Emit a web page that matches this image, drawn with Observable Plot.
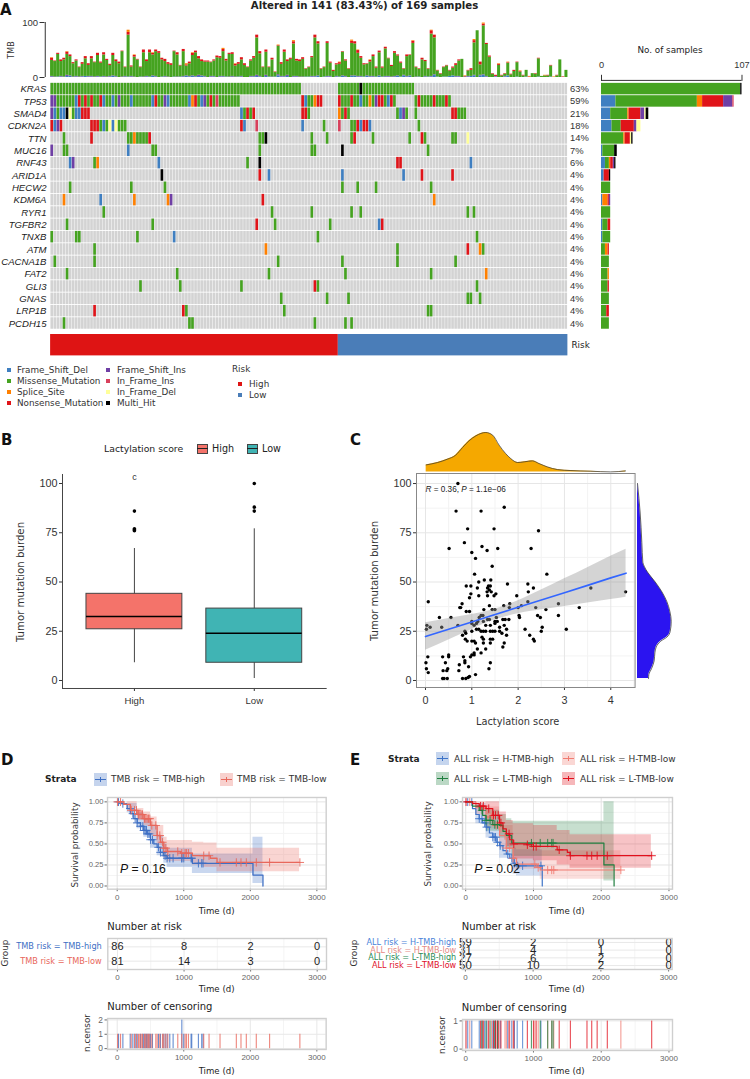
<!doctype html>
<html><head><meta charset="utf-8">
<script src="https://cdn.jsdelivr.net/npm/d3@7"></script>
<script src="https://cdn.jsdelivr.net/npm/@observablehq/plot@0.6"></script>
<style>
html,body{margin:0;background:#fff}
#page{position:relative;width:750px;height:1079px;overflow:hidden;font-family:"DejaVu Sans",sans-serif;color:#222}
.l{position:absolute;white-space:nowrap;line-height:1}
.b{position:absolute;box-sizing:border-box}
</style></head><body><div id="page"></div>
<script>
// ---------- Panel A data ----------
const genes=["KRAS","TP53","SMAD4","CDKN2A","TTN","MUC16","RNF43","ARID1A","HECW2","KDM6A","RYR1","TGFBR2","TNXB","ATM","CACNA1B","FAT2","GLI3","GNAS","LRP1B","PCDH15"];
const genePct=["63%","59%","21%","18%","14%","7%","6%","4%","4%","4%","4%","4%","4%","4%","4%","4%","4%","4%","4%","4%"];
const mutTypes=["Frame_Shift_Del","Missense_Mutation","Splice_Site","Nonsense_Mutation","Frame_Shift_Ins","In_Frame_Ins","In_Frame_Del","Multi_Hit"];
const mutColors=["#3F7FC1","#45A320","#FF8000","#E01419","#6F3FA5","#D8405C","#FFFF99","#000000"];
const [FD,MI,SP,NO,FI,II,ID,MH]=mutTypes;
// sample index lists per gene, by variant
const rows={
KRAS:{[MI]:[0,1,2,3,4,5,6,7,8,9,10,11,12,13,14,15,16,17,18,19,20,21,22,23,24,25,26,27,28,29,30,31,32,33,34,35,36,37,38,39,40,41,42,43,44,45,46,47,48,49,50,51,52,53,54,55,56,57,58,59,60,61,62,63,64,65,66,67,68,69,70,71,72,73,74,75,76,77,78,79,80,81,94,95,96,97,98,99,100,102,103,104,105,106,107,108,109,110,111,112,113,114,115,116,117,118],[MH]:[101]},
TP53:{[FI]:[0,1,22,37,50,106],[MI]:[2,3,4,5,6,7,10,12,14,15,18,19,21,23,24,25,27,28,29,30,31,32,35,36,39,40,41,42,43,44,48,51,53,55,56,57,58,59,60,61,84,85,95,96,97,99,100,102,103,105,109,112,119,121,122,123,124,126,127,128,130],[FD]:[8,17,20,26,33,38,45,49,83,101,110],[NO]:[9,11,13,16,34,47,52,82,87,88,94,98,107,108,111,120,125,129],[SP]:[46,86,104],[II]:[54]},
SMAD4:{[FI]:[0,115],[FD]:[1,3,4,8,9,62,114],[MI]:[2,7,63,65,84,95,97,113,116,119,133,134,135],[MH]:[5],[ID]:[6],[NO]:[10,11,12,64,66,82,83,96,131,132],[SP]:[94]},
CDKN2A:{[NO]:[0,3,13,14,15,62,100,102,103],[FD]:[1,17,20,63,82,101,104],[FI]:[2],[MI]:[16,18,22,23,24,89,98,99,120],[ID]:[19,21],[II]:[67,94]},
TTN:{[MI]:[4,25,26,28,29,30,31,68,69,85,90,98,105,117,122,131,132],[NO]:[13,32,99,121],[SP]:[27],[MH]:[70],[ID]:[136]},
MUC16:{[FI]:[0],[MI]:[4,5,33,34,68,85,86,123],[FD]:[25],[MH]:[95]},
RNF43:{[FD]:[6,35,137],[FI]:[7],[MI]:[14,64],[SP]:[15],[MH]:[68],[NO]:[113,114]},
ARID1A:{[MH]:[36],[NO]:[68,121,131],[FD]:[71,95,115]},
HECW2:{[MI]:[6,26,37,95,100,106,124]},
KDM6A:{[SP]:[4,27,38,125],[FD]:[16],[FI]:[39],[NO]:[69]},
RYR1:{[MI]:[17,72,85,98,101,136,138]},
TGFBR2:{[MI]:[5,33,73,91],[NO]:[67,108],[FD]:[107]},
TNXB:{[MI]:[0,8,9,28,87,139],[FD]:[40]},
ATM:{[MI]:[14,113,141],[SP]:[70,140],[NO]:[136]},
CACNA1B:{[MI]:[1,14,74,95,113,132]},
FAT2:{[MI]:[5,41,71,96,124],[SP]:[142]},
GLI3:{[MI]:[29,42,62,87,139],[NO]:[86]},
GNAS:{[MI]:[75,90,97,136,137,140]},
LRP1B:{[NO]:[14,43],[MI]:[44,76,123,124]},
PCDH15:{[MI]:[4,45,46,86,96,98]}
};
// TMB per sample (total, then the layers)
const tmbTotal=[36,30,44,32,35,47,41,27,32,19,27,38,25,38,28,44,28,45,33,24,44,32,28,48,19,86,21,41,33,19,50,32,50,45,50,47,35,33,27,25,48,45,22,51,25,28,45,48,38,32,30,30,28,32,39,38,53,33,44,45,25,27,36,25,19,32,38,77,47,19,50,19,35,10,59,27,50,32,35,67,33,32,
36,16,19,38,77,65,16,19,65,28,13,25,28,47,32,16,68,65,50,38,25,25,32,41,19,48,19,55,35,22,47,41,28,16,41,41,67,19,16,35,31,16,86,77,13,7,19,22,13,19,25,32,33,1,13,16,69,85,28,99,62,39,7,4,25,4,7,28,6,13,28,12,4,13,1,7,7,35,2,4,4,22,1,4,32,1,13];
const tmbNonsense=[4,1,2,3,3,4,3,2,2,1,3,4,3,4,1,4,2,4,2,2,4,3,3,1,1,5,2,3,1,1,5,3,5,3,3,3,3,4,3,3,1,4,1,4,2,3,4,3,4,3,2,2,1,2,3,3,4,3,2,3,3,3,4,3,1,2,3,5,4,1,4,1,3,1,1,3,4,3,2,4,3,3,
3,1,1,2,5,4,1,1,3,2,2,2,3,1,2,1,4,4,5,3,2,1,3,3,2,3,2,3,1,2,3,2,2,1,3,1,4,1,1,3,2,1,6,5,1,1,1,1,1,2,3,2,0,1,1,3,4,0,5,3,2,2,1,2,2,1,1,1,1,2,1,1,1,0,1,0,1,1,0,0,1,1,0,1,0,1,0];
const tmbFrameDel=[1,0,1,1,0,2,2,0,1,0,1,2,1,1,0,1,1,1,0,1,2,1,0,0,1,1,1,0,0,1,0,1,1,2,1,0,1,1,0,0,1,0,1,1,2,1,2,1,2,2,1,0,1,1,0,1,1,1,0,1,0,1,1,0,0,1,1,2,1,0,2,1,0,1,3,1,1,2,0,1,1,0,
0,1,1,1,1,2,0,1,1,1,0,1,1,2,1,0,2,2,1,1,1,2,1,1,1,2,1,1,1,0,1,2,1,3,1,2,0,0,1,0,1,1,1,4,1,0,1,1,2,3,1,1,0,1,1,2,3,0,3,4,1,0,0,1,0,0,1,3,0,0,1,0,0,1,0,0,0,1,0,0,0,1,0,0,0,0,0];
const tmbFrameIns=[1,1,0,1,1,2,1,1,1,1,1,0,1,1,1,1,0,1,1,1,1,1,0,1,1,0,1,1,0,0,1,1,0,1,1,0,0,1,1,0,0,1,0,1,1,1,1,1,2,1,1,0,1,1,0,1,1,0,1,1,1,0,1,0,0,1,1,2,1,0,2,0,1,0,2,1,1,2,0,1,1,1,
1,0,0,1,1,1,0,0,1,1,0,1,0,1,1,0,1,1,1,1,0,1,1,1,0,1,0,1,1,1,1,1,0,1,1,1,0,1,0,0,1,0,1,1,0,0,0,0,0,0,1,1,0,0,1,0,1,0,1,1,1,0,0,1,0,0,1,0,0,0,0,0,0,0,0,0,0,0,0,0,0,0,0,0,0,0,0];
const spliceSamples=[0,5,25,27,33,44,46,56,60,74,79,94,98,100,104,118,124,135,138,141,146,149,153,156,161,164];
const spliceValues=[1,1,4,1,1,2,1,2,1,1,2,1,2,1,1,1,1,1,2,2,1,1,1,1,1,1];
// bar totals on the right, per gene per variant
const sideCounts={
KRAS:[0,106,0,0,0,0,0,1],TP53:[11,62,4,16,7,1,0,0],SMAD4:[7,13,1,9,3,0,1,2],CDKN2A:[8,7,0,10,2,0,3,0],TTN:[0,17,1,4,0,0,1,1],
MUC16:[1,9,0,0,0,0,0,2],RNF43:[3,3,1,2,1,0,0,1],ARID1A:[2,0,0,4,0,0,0,1],HECW2:[0,7,0,0,0,0,0,0],KDM6A:[1,0,4,1,1,0,0,0],
RYR1:[0,7,0,0,0,0,0,0],TGFBR2:[1,4,0,2,0,0,0,0],TNXB:[1,6,0,0,0,0,0,0],ATM:[0,3,2,1,0,0,0,0],CACNA1B:[0,6,0,0,0,0,0,0],
FAT2:[0,5,1,0,0,0,0,0],GLI3:[0,5,0,1,0,0,0,0],GNAS:[0,6,0,0,0,0,0,0],LRP1B:[0,4,0,2,0,0,0,0],PCDH15:[0,6,0,0,0,0,0,0]};
const riskGroups=["High","Low"], riskCounts=[94,75], riskColors=["#DE1414","#4A7DB8"];
const nSamples=169;
// ---------- Panel B data ----------
const boxStats=[{g:"High",lo:9,q1:26,med:32.5,q3:44,hi:67},{g:"Low",lo:1,q1:9,med:24,q3:36.5,hi:77}];
const boxOutG=["High","High","High","High","Low","Low","Low"], boxOutV=[76,76.5,77,86,86,88,100];
const boxColors=["#F4736A","#40B4B4"];
// ---------- Panel C data ----------
const scatter=[[0.70,100],[0.66,86],[1.20,86],[1.70,88],[0.91,77],[1.48,77],[2.44,76],[0.84,70],[1.22,68],[0.51,67],[1.56,67],[2.28,67],[1.33,66],[1.0,65],[1.08,62],[1.44,58],[2.62,54],[1.06,54],[1.15,50],[1.27,51],[1.41,51],[1.77,49],[2.21,49],[0.88,48],[0.98,48],[1.36,48],[1.40,48],[1.34,47],[1.38,46],[1.12,47],[3.57,47],[2.22,45],[2.33,47],[4.32,45],[0.98,44],[1.33,45],[1.42,45],[1.52,44],[1.48,43],[0.95,42],[1.15,43],[1.34,43],[1.97,43],[0.06,40],[0.79,39],[0.76,37],[0.74,37],[2.21,40],[1.82,39],[2.87,39],[1.69,38],[1.38,38],[2.07,38],[1.44,36],[1.26,36],[1.5,36],[1.81,37],[2.38,37],[3.32,37],[2.0,37],[0.88,35],[0.95,35],[1.2,33],[1.16,32],[1.24,33],[2.42,33],[2.87,33],[0.3,32],[0.55,32],[2.02,33],[2.03,32],[2.48,32],[1.34,31],[1.38,31],[1.53,32],[1.67,31],[1.72,31],[1.8,31],[2.6,36],[1.0,30],[1.13,30],[1.25,30],[1.5,30],[1.55,30],[0.02,26],[0.03,28],[0.1,27],[0.35,27],[0.7,28],[1.0,29],[1.05,28],[1.1,29],[1.3,28],[1.4,28],[1.5,29],[1.6,27],[1.7,28],[1.75,26],[2.15,26],[2.5,25],[2.52,27],[3.04,26],[0.87,24],[0.85,25],[0.8,23],[1.0,25],[1.1,26],[1.15,26],[1.2,25],[1.25,25],[1.3,25],[1.4,25],[1.45,25],[1.5,25],[1.6,25],[1.65,24],[1.75,23],[2.25,23],[2.33,21],[2.35,20],[0.86,21],[0.9,20],[1.0,20],[1.05,20],[1.08,19],[1.22,22],[1.25,21],[1.4,21],[1.45,21],[1.4,19],[1.7,19],[1.67,17],[1.25,19],[1.12,16],[1.3,16],[1.2,14],[1.05,14],[1.0,13],[0.97,12],[1.05,13],[0.5,12],[0.5,13],[0.05,12],[0.37,12],[0.82,12],[0.85,10],[0.85,9],[0.43,9],[0.01,9],[1.4,9],[0.73,8],[0.93,7],[0.02,6],[0.48,6],[0.46,5],[0.38,5],[0.72,5],[1.37,6],[0.06,4],[1.08,3],[0.37,1],[0.4,1],[0.47,1],[0.8,1],[0.87,1],[0.92,1.5],[0.95,2]];
const fitX=[0,0.5,1,1.4,2,2.5,3,3.5,4,4.33];
const fitY=[22.3,26,29.7,32.7,37.2,40.9,44.6,48.3,52.1,54.5];
const fitHi=[29.3,31.5,33.5,35.5,40.5,45.9,51.6,57.3,63.1,66.7];
const fitLo=[15.3,20.5,25.9,29.9,33.9,35.9,37.6,39.3,41.1,42.3];
const topDensX=[0.014,0.26,0.47,0.65,0.80,0.94,1.09,1.30,1.45,1.59,1.73,1.84,1.99,2.13,2.31,2.45,2.63,2.85,3.14,3.57,4.0,4.32];
const topDensY=[.127,.17,.23,.303,.442,.564,.655,.715,.667,.485,.333,.242,.17,.182,.2,.152,.091,.042,.024,.012,0,.018];
const sideDensT=[100,85,70,60,58,55,50,45,40,35,30,25,22,20,17,14,10,6,3,1];
const sideDensD=[0,8,13,16,20,30,53,73,88,97,101,98,88,70,56,52,50,42,34,33];
// ---------- Panel D data ----------
const dHighT=[0,60,100,150,200,250,300,350,400,450,500,550,600,650,700,750,1130,2040,2190];
const dHighS=[1,.98,.97,.92,.86,.80,.75,.71,.66,.62,.55,.50,.46,.40,.36,.33,.27,.13,0];
const dHighBT=[0,150,300,400,500,600,700,750,1130,2040,2190];
const dHighHi=[1,.98,.87,.79,.71,.60,.50,.45,.38,.58,.58];
const dHighLo=[1,.87,.68,.58,.45,.36,.27,.22,.15,.03,.03];
const dHighCens=[20,85,195,235,270,300,350,385,400,420,440,460,480,500,530,620,650,690,720,750,790,840,971,971,1000,1110,1120,1220,1270,1290];
const dLowT=[0,100,200,300,400,500,600,650,700,750,950,1130,1400,1500,2740];
const dLowS=[1,.97,.90,.85,.80,.72,.60,.52,.45,.41,.39,.36,.33,.28,.28];
const dLowBT=[0,150,300,400,500,600,700,750,1130,1300,1500,2740];
const dLowHi=[1,1,.92,.88,.82,.72,.58,.54,.52,.51,.45,.45];
const dLowLo=[1,.92,.78,.72,.60,.48,.33,.29,.25,.22,.17,.17];
const dLowCens=[5,50,210,260,290,320,340,360,380,410,430,450,470,490,520,580,600,640,680,700,730,760,910,970,1020,1040,1070,1300,1380,1545,1790,1860,1940,2090,2290,2745];
const dGroups=["TMB risk = TMB-high","TMB risk = TMB-low"];
const dColors=["#3E6FC4","#E8685C"];
const dAtRisk=[[86,8,2,0],[81,14,3,0]];
const riskTimes=[0,1000,2000,3000];
// ---------- Panel E data ----------
const eGroups=["ALL risk = H-TMB-high","ALL risk = H-TMB-low","ALL risk = L-TMB-high","ALL risk = L-TMB-low"];
const eColors=["#3E74C8","#F07C72","#1F7F3F","#E0101C"];
const eLabelColors=["#4A82D8","#E58A85","#2E8B57","#E0102A"];
const eAtRisk=[[59,2,0,0],[31,4,1,0],[27,6,2,0],[50,10,2,0]];
const eCurves=[
{t:[0,100,150,200,250,300,350,400,450,500,550,600,650,700,750,1130],s:[1,.92,.85,.80,.75,.70,.63,.58,.52,.48,.42,.38,.33,.27,.24,0],
 bt:[0,150,300,500,700,750,1130],hi:[1,.98,.83,.63,.45,.43,.43],lo:[1,.74,.57,.33,.14,.12,.12],c:[30,90,200,240,280,310,400,420,440,470,510,620,680,720,760,840,1110]},
{t:[0,150,300,400,500,600,700,750,1050,1100,2280],s:[1,.93,.82,.72,.60,.45,.33,.26,.22,.19,.19],
 bt:[0,150,300,500,700,1100,2290],hi:[1,1,.94,.72,.48,.42,.42],lo:[1,.84,.68,.45,.20,.08,.08],c:[60,250,330,380,450,490,580,600,650,700,1020,1070,1210,1270,1300,2290]},
{t:[0,100,200,250,300,400,500,550,600,680,2040,2190],s:[1,.95,.90,.84,.78,.73,.72,.65,.60,.51,.25,0],
 bt:[0,300,500,600,680,2040,2190],hi:[1,.90,.85,.80,.77,1,1],lo:[1,.65,.57,.45,.35,.06,.06],c:[240,300,360,430,470,970,1100,1210,1270,1290]},
{t:[0,100,200,300,400,500,550,600,650,700,900,1000,1350,1500,1540,2740],s:[1,.98,.95,.92,.84,.75,.68,.62,.55,.50,.49,.47,.43,.40,.36,.36],
 bt:[0,300,500,600,700,1000,1350,1540,2740],hi:[1,1,.88,.78,.74,.72,.66,.61,.61],lo:[1,.85,.63,.47,.32,.30,.25,.21,.21],c:[5,220,260,340,410,440,480,520,640,710,910,1000,1040,1380,1545,1790,1860,1940,2090,2745]}
];

// ---------- helpers ----------
const page=document.getElementById("page");
const NUM='"Liberation Sans",sans-serif', WORD='"DejaVu Sans",sans-serif';
function lab(html,x,y,o={}){
  const e=document.createElement("div");e.className="l";e.innerHTML=html;
  const tx=o.a==="r"?"-100%":o.a==="c"?"-50%":"0";
  e.style.cssText+=`left:${x}px;top:${y}px;font-size:${o.s||9}px;color:${o.c||"#222"};font-family:${o.f||WORD};font-weight:${o.b?700:400};transform:translate(${tx},-50%)${o.r?` rotate(${o.r}deg)`:""};`;
  page.append(e);return e;
}
function box(x,y,w,h,bg,extra=""){
  const e=document.createElement("div");e.className="b";e.style.cssText+=`left:${x}px;top:${y}px;width:${w}px;height:${h}px;background:${bg};${extra}`;page.append(e);return e;
}
function panel(x0,x1,y0,y1,[t,r,b,l],opts){
  const svg=Plot.plot({width:x1-x0+l+r,height:y1-y0+t+b,marginTop:t,marginRight:r,marginBottom:b,marginLeft:l,
    style:{position:"absolute",left:(x0-l)+"px",top:(y0-t)+"px",background:"none",overflow:"visible",fontFamily:NUM,fontSize:"9px"},...opts});
  page.append(svg);return svg;
}
const stepAt=(T,S,t)=>S[Math.max(0,d3.bisectRight(T,t)-1)];

// ---------- Panel A ----------
const sampleDomain=d3.range(nSamples);
const bgCells=genes.flatMap(g=>sampleDomain.map(s=>({g,s})));
const mutCells=genes.flatMap(g=>Object.entries(rows[g]).flatMap(([type,list])=>list.map(s=>({g,s,type}))));
panel(50,567.5,82,329.6,[0,30,0,50],{
  x:{type:"band",domain:sampleDomain,padding:.14,round:false,axis:null},
  y:{type:"band",domain:genes,padding:.07,round:false,axis:null},
  color:{domain:mutTypes,range:mutColors},
  marks:[
    Plot.cell(bgCells,{x:"s",y:"g",fill:"#D3D3D3"}),
    Plot.cell(mutCells,{x:"s",y:"g",fill:"type"}),
    Plot.text(genes,{y:d=>d,text:d=>d,frameAnchor:"left",dx:-4,textAnchor:"end",fontStyle:"italic",fontSize:9.6,fill:"#222"}),
    Plot.text(genes,{y:d=>d,text:(d,i)=>genePct[i],frameAnchor:"right",dx:2,textAnchor:"start",fontSize:9.4,fill:"#333"})
  ]});
const spliceBy=new Map(spliceSamples.map((s,i)=>[s,spliceValues[i]]));
const tmbLong=sampleDomain.flatMap(i=>{
  const sp=spliceBy.get(i)||0, tot=tmbTotal[i];
  return [
    {i,type:FD,v:tmbFrameDel[i]},{i,type:FI,v:tmbFrameIns[i]},
    {i,type:MI,v:Math.max(0,tot-tmbFrameDel[i]-tmbFrameIns[i]-tmbNonsense[i]-sp)},
    {i,type:NO,v:tmbNonsense[i]},{i,type:SP,v:sp}];
});
panel(50,567.5,22,77,[3,2,2,30],{
  x:{type:"band",domain:sampleDomain,padding:.02,round:false,axis:null},
  y:{domain:[0,100],axis:null},
  color:{domain:mutTypes,range:mutColors},
  marks:[
    Plot.barY(tmbLong,{x:"i",y:"v",fill:"type"}),
    Plot.axisY({ticks:[0,100],tickSize:5,tickPadding:2,dx:-5.5,fontSize:9.5,color:"#333",label:null}),
    Plot.ruleX([0],{x:0,y1:0,y2:100,dx:-6.8,stroke:"#333"})
  ]});
const sideLong=genes.flatMap(g=>mutTypes.map((type,k)=>({g,type,v:sideCounts[g][k]})));
panel(600.5,741,82,329.6,[24,6,2,6],{
  x:{domain:[0,107],axis:null},
  y:{type:"band",domain:genes,padding:.07,round:false,axis:null},
  color:{domain:mutTypes,range:mutColors},
  marks:[
    Plot.barX(sideLong,{y:"g",x:"v",fill:"type"}),
    Plot.axisX({anchor:"top",ticks:[0,107],tickSize:6,tickPadding:6,dy:-2.2,fontSize:9.2,color:"#333",label:null}),
    Plot.ruleY([genes[0]],{y:d=>d,x1:0,x2:107,dy:-8.7,stroke:"#333"})
  ]});
panel(50,567.5,334.3,355.7,[0,0,0,0],{
  x:{domain:[0,nSamples],axis:null},
  color:{domain:riskGroups,range:riskColors},
  marks:[Plot.barX(riskGroups,{x:(d,i)=>riskCounts[i],fill:d=>d})]});

lab("A",0,10,{s:15,b:1,c:"#111",f:WORD});
lab("Altered in 141 (83.43%) of 169 samples",364.5,5.5,{s:10.2,b:1,a:"c",c:"#222"});
lab("TMB",12,50,{s:8,a:"c",r:-90,c:"#333"});
lab("No. of samples",670,50,{s:8.8,a:"c"});
lab("Risk",571.5,345,{s:8.8});
[[FD,FI],[MI,II],[SP,ID],[NO,MH]].forEach(([a,b],i)=>{
  const y=370+i*11.1;
  box(7,y-2,4,4,mutColors[mutTypes.indexOf(a)]);lab(a,17,y,{s:8.8,c:"#333"});
  box(106,y-2,4,4,mutColors[mutTypes.indexOf(b)]);lab(b,117,y,{s:8.8,c:"#333"});
});
lab("Risk",232,369,{s:8.8,c:"#333"});
box(238,381.7,4,4,riskColors[0]);lab("High",249,383.7,{s:8.8,c:"#333"});
box(238,392.8,4,4,riskColors[1]);lab("Low",249,394.8,{s:8.8,c:"#333"});

// ---------- Panel B ----------
const boxOut=boxOutG.map((g,i)=>({g,v:boxOutV[i]}));
panel(62,325.7,474.3,688.3,[2,3,22,30],{
  x:{type:"band",domain:riskGroups,padding:.2,round:false,axis:null},
  y:{domain:[-4.06,104.57],axis:null},
  color:{domain:riskGroups,range:boxColors},
  marks:[
    Plot.ruleX(boxStats,{x:"g",y1:"lo",y2:"hi",stroke:"#444",strokeWidth:1}),
    Plot.barY(boxStats,{x:"g",y1:"q1",y2:"q3",fill:"g",stroke:"#444",strokeWidth:1}),
    Plot.tickY(boxStats,{x:"g",y:"med",stroke:"#000",strokeWidth:1.6}),
    Plot.dot(boxOut,{x:"g",y:"v",r:1.8,fill:"#000"}),
    Plot.text(["c"],{x:()=>"High",y:()=>103,text:d=>d,dy:0,fontSize:9,fill:"#333"}),
    Plot.axisY({ticks:[0,25,50,75,100],tickSize:3,tickPadding:2,fontSize:10.8,color:"#333",label:null}),
    Plot.axisX({ticks:riskGroups,tickSize:3,tickPadding:6,fontSize:9.6,color:"#333",label:null}),
    Plot.frame({anchor:"left",stroke:"#444"}),Plot.frame({anchor:"bottom",stroke:"#444"})
  ]});
lab("B",1,440,{s:15,b:1,c:"#111"});
lab("Lactylation score",104,449,{s:9.3});
box(197,444,11,9.5,boxColors[0],"border:1px solid #444");box(197,448.3,11,1,"#222");
lab("High",212,449,{s:9.6});
box(247,444,11,9.5,boxColors[1],"border:1px solid #444");box(247,448.3,11,1,"#222");
lab("Low",262,449,{s:9.6});
lab("Tumor mutation burden",21,581.7,{s:10.2,a:"c",r:-90,c:"#333"});

// ---------- Panel C ----------
const cX=[-0.194,4.525];
panel(415.7,634.3,473.3,687.3,[2,2,22,30],{
  x:{domain:cX,axis:null},y:{domain:[-3.55,105.1],axis:null},
  marks:[
    Plot.gridX({ticks:[0.5,1.5,2.5,3.5,4.5],stroke:"#F3F3F3",strokeOpacity:1}),
    Plot.gridY({ticks:[12.5,37.5,62.5,87.5],stroke:"#F3F3F3",strokeOpacity:1}),
    Plot.gridX({ticks:[0,1,2,3,4],stroke:"#E6E6E6",strokeOpacity:1}),
    Plot.gridY({ticks:[0,25,50,75,100],stroke:"#E6E6E6",strokeOpacity:1}),
    Plot.dot(scatter,{x:d=>d[0],y:d=>d[1],r:1.7,fill:"#000"}),
    Plot.areaY(fitX,{x:d=>d,y1:(d,i)=>fitLo[i],y2:(d,i)=>fitHi[i],fill:"#999",fillOpacity:.42,curve:"monotone-x"}),
    Plot.lineY(fitX,{x:d=>d,y:(d,i)=>fitY[i],stroke:"#3366FF",strokeWidth:1.6}),
    Plot.axisX({ticks:[0,1,2,3,4],tickFormat:"d",tickSize:3,tickPadding:6,fontSize:10.8,color:"#333",label:null}),
    Plot.axisY({ticks:[0,25,50,75,100],tickSize:3,tickPadding:2,fontSize:10.8,color:"#333",label:null}),
    Plot.frame({stroke:"#888",strokeWidth:1})
  ]});
panel(415.7,634.3,432.3,471.7,[2,0,0,0],{
  x:{domain:cX,axis:null},y:{domain:[0,.715],axis:null},
  marks:[
    Plot.areaY(topDensX,{x:d=>d,y:(d,i)=>topDensY[i],fill:"#F5A800",curve:"monotone-x"}),
    Plot.lineY(topDensX,{x:d=>d,y:(d,i)=>topDensY[i],stroke:"#333",strokeWidth:.7,curve:"monotone-x"})
  ]});
panel(637.3,670.7,483.3,680.3,[0,4,0,1],{
  x:{domain:[0,100],axis:null},y:{domain:[0,100],axis:null},
  marks:[
    Plot.areaX(sideDensT,{y:d=>d,x:(d,i)=>sideDensD[i],fill:"#2B14F0",curve:"monotone-y"}),
    Plot.lineX(sideDensT,{y:d=>d,x:(d,i)=>sideDensD[i],stroke:"#222",strokeWidth:.7,curve:"monotone-y"})
  ]});
lab("C",350,440,{s:15,b:1,c:"#111"});
lab("<i>R</i> = 0.36, <i>P</i> = 1.1e−06",425.5,490,{s:8.2,f:NUM,c:"#222"});
lab("Tumor mutation burden",375,581,{s:10.2,a:"c",r:-90,c:"#333"});
lab("Lactylation score",517.7,721.7,{s:9.8,a:"c",c:"#333"});

// ---------- KM helpers ----------
const grey="#666";
function kmMarks(curves,colors,bandOp,lw){
  const marks=[
    Plot.gridX({ticks:[500,1500,2500],stroke:"#F4F4F4",strokeOpacity:1}),
    Plot.gridY({ticks:[.125,.375,.625,.875],stroke:"#F4F4F4",strokeOpacity:1}),
    Plot.gridX({ticks:riskTimes,stroke:"#E4E4E4",strokeOpacity:1}),
    Plot.gridY({ticks:[0,.25,.5,.75,1],stroke:"#E4E4E4",strokeOpacity:1})];
  curves.forEach((k,i)=>marks.push(Plot.areaY(k.bt,{x:d=>d,y1:(d,j)=>k.lo[j],y2:(d,j)=>k.hi[j],fill:colors[i],fillOpacity:bandOp,curve:"step-after"})));
  curves.forEach((k,i)=>{
    marks.push(Plot.lineY(k.t,{x:d=>d,y:(d,j)=>k.s[j],stroke:colors[i],strokeWidth:lw,curve:"step-after"}));
    marks.push(Plot.dot(k.c,{x:d=>d,y:d=>stepAt(k.t,k.s,d),symbol:"plus",r:2.8,stroke:colors[i],strokeWidth:.9}));
  });
  marks.push(Plot.axisX({ticks:riskTimes,tickFormat:"d",tickSize:2.5,tickPadding:2.5,fontSize:8,color:grey,label:null}));
  marks.push(Plot.axisY({ticks:[0,.25,.5,.75,1],tickFormat:".2f",tickSize:2.5,tickPadding:1.5,fontSize:7.6,color:grey,label:null}));
  marks.push(Plot.frame({stroke:"#CFCFCF",strokeWidth:1.4}));
  return marks;
}
function tableMarks(groups,colors,atRisk,labelSize,numSize){
  const cells=groups.flatMap((g,i)=>riskTimes.map((t,j)=>({g,t,n:atRisk[i][j]})));
  return [
    Plot.gridX({ticks:riskTimes,stroke:"#E8E8E8",strokeOpacity:1}),
    Plot.gridX({ticks:[500,1500,2500],stroke:"#F4F4F4",strokeOpacity:1}),
    Plot.gridY(groups,{y:d=>d,stroke:"#E8E8E8",strokeOpacity:1}),
    Plot.text(cells,{x:"t",y:"g",text:d=>String(d.n),fontSize:numSize,fill:"#222"}),
    Plot.text(groups,{y:d=>d,text:d=>d,frameAnchor:"left",dx:-6,textAnchor:"end",fontSize:labelSize,fontFamily:WORD,fill:(d,i)=>colors[i]}),
    Plot.axisX({ticks:riskTimes,tickFormat:"d",tickSize:2.5,tickPadding:2.5,fontSize:8,color:grey,label:null}),
    Plot.frame({stroke:"#CFCFCF",strokeWidth:1.4})
  ];
}
function censorMarks(lists,colors,yTicks,op){
  const recs=lists.flatMap((l,i)=>{const cnt=d3.rollup(l,v=>v.length,d=>d);return [...cnt].map(([t,n])=>({t,n,c:colors[i]}));});
  return [
    Plot.gridX({ticks:riskTimes,stroke:"#E8E8E8",strokeOpacity:1}),
    Plot.gridX({ticks:[500,1500,2500],stroke:"#F4F4F4",strokeOpacity:1}),
    Plot.gridY({ticks:yTicks,stroke:"#E8E8E8",strokeOpacity:1}),
    Plot.ruleX(recs,{x:"t",y1:0,y2:"n",stroke:d=>d.c,strokeWidth:1.1,strokeOpacity:op}),
    Plot.axisX({ticks:riskTimes,tickFormat:"d",tickSize:2.5,tickPadding:2.5,fontSize:8,color:grey,label:null}),
    Plot.axisY({ticks:yTicks,tickFormat:d3.format("d"),tickSize:2.5,tickPadding:2,fontSize:8.4,color:grey,label:null}),
    Plot.frame({stroke:"#CFCFCF",strokeWidth:1.4})
  ];
}
function legendKey(x,y,color,op){
  box(x,y,12.5,13,color,`opacity:${op}`);
  box(x+.5,y+6,11.5,1.2,color);box(x+5.7,y+4,1.1,5.2,color);
}

// ---------- Panel D ----------
const dX=[-145.7,3140];
const dCurves=[{t:dHighT,s:dHighS,bt:dHighBT,hi:dHighHi,lo:dHighLo,c:dHighCens},{t:dLowT,s:dLowS,bt:dLowBT,hi:dLowHi,lo:dLowLo,c:dLowCens}];
panel(107.3,326,797.3,889,[2,3,16,32],{x:{domain:dX,axis:null},y:{domain:[-.038,1.052],axis:null},marks:kmMarks(dCurves,dColors,.28,1.3)});
panel(107.3,326,938.3,969.3,[1,3,14,107.3],{x:{domain:dX,axis:null},y:{type:"point",domain:dGroups,padding:.584,round:false,axis:null},marks:tableMarks(dGroups,dColors,dAtRisk,8.2,11)});
panel(107.3,326,1018.3,1049.3,[1,3,14,14],{x:{domain:dX,axis:null},y:{domain:[-.06,2.1],axis:null},marks:censorMarks([dHighCens,dLowCens],dColors,[0,1,2],.8)});
lab("D",1,760,{s:15,b:1,c:"#111"});
lab("Strata",45,779,{s:9,b:1});
legendKey(94.3,772.5,dColors[0],.3);lab(dGroups[0],111,779,{s:9,c:"#333"});
legendKey(220,772.5,dColors[1],.3);lab(dGroups[1],237,779,{s:9,c:"#333"});
lab("Survival probability",75,845,{s:8.8,a:"c",r:-90,c:"#333"});
lab("Time (d)",216.6,910.7,{s:8.6,a:"c",c:"#222"});
lab("<i>P</i> = 0.16",120,869,{s:12.2,f:NUM,c:"#111"});
lab("Number at risk",107.3,926.7,{s:10,c:"#222"});
lab("Group",5,953,{s:8.8,a:"c",r:-90,c:"#333"});
lab("Time (d)",216.6,988.5,{s:8.6,a:"c",c:"#222"});
lab("Number of censoring",107.3,1007.3,{s:10,c:"#222"});
lab("n.censor",87,1033,{s:8.8,a:"c",r:-90,c:"#333"});
lab("Time (d)",216.6,1071,{s:8.6,a:"c",c:"#222"});

// ---------- Panel E ----------
const eX=[-47.1,3052];
panel(461.7,671.7,797.3,889,[2,3,16,32],{x:{domain:eX,axis:null},y:{domain:[-.038,1.052],axis:null},marks:kmMarks(eCurves,eColors,.25,1.2)});
panel(461.7,671.7,938.3,969.3,[1,3,14,111.7],{x:{domain:eX,axis:null},y:{type:"point",domain:eGroups,padding:.51,round:false,axis:null},marks:tableMarks(eGroups,eLabelColors,eAtRisk,8.1,11.5)});
panel(461.7,671.7,1019,1050,[1,3,14,14],{x:{domain:eX,axis:null},y:{domain:[-.05,1.05],axis:null},marks:censorMarks(eCurves.map(k=>k.c),eColors,[0,1],.75)});
lab("E",350,760,{s:15,b:1,c:"#111"});
lab("Strata",388,759,{s:9,b:1});
legendKey(436,752,eColors[0],.3);lab(eGroups[0],454,759,{s:9,c:"#333"});
legendKey(562,752,eColors[1],.3);lab(eGroups[1],580,759,{s:9,c:"#333"});
legendKey(436,771.5,eColors[2],.3);lab(eGroups[2],454,778.5,{s:9,c:"#333"});
legendKey(562,771.5,eColors[3],.3);lab(eGroups[3],580,778.5,{s:9,c:"#333"});
lab("Survival probability",428.3,844,{s:8.8,a:"c",r:-90,c:"#333"});
lab("Time (d)",566.7,910.7,{s:8.6,a:"c",c:"#222"});
lab("<i>P</i> = 0.02",474.3,869,{s:12.2,f:NUM,c:"#111"});
lab("Number at risk",461.7,927,{s:10,c:"#222"});
lab("Group",354,953,{s:8.8,a:"c",r:-90,c:"#333"});
lab("Time (d)",566.7,988.5,{s:8.6,a:"c",c:"#222"});
lab("Number of censoring",461.7,1008,{s:10,c:"#222"});
lab("n.censor",441.7,1035,{s:8.8,a:"c",r:-90,c:"#333"});
lab("Time (d)",566.7,1071,{s:8.6,a:"c",c:"#222"});
</script></body></html>
